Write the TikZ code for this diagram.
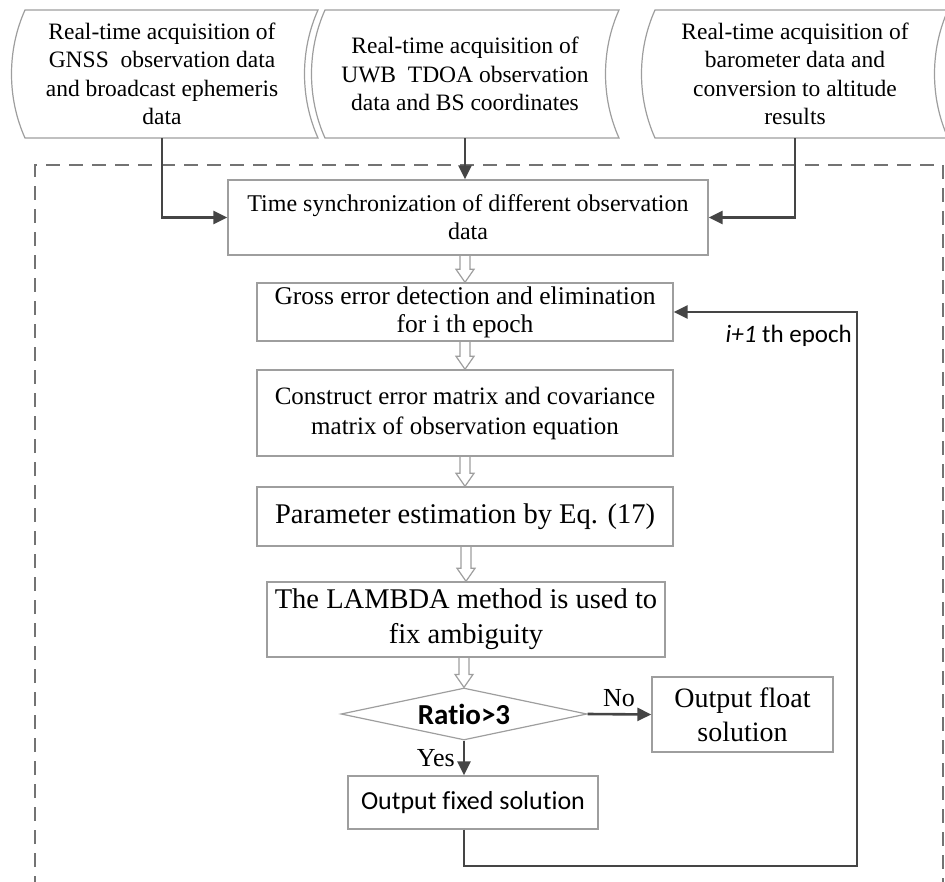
\documentclass[tikz,border=0pt]{standalone}
\usepackage{fontspec}
\setmainfont{Liberation Serif}
\setsansfont{Carlito}[Ligatures=CommonOff]
\usetikzlibrary{arrows.meta,shapes.geometric,calc}

\definecolor{boxgray}{gray}{0.62}
\definecolor{flowgray}{gray}{0.27}
\definecolor{framegray}{gray}{0.45}

% curved input shape between two x positions
\newcommand{\acqshape}[2]{%
  \draw[acq] (#1,10) .. controls +(-18,40) and +(-18,-40) .. (#1,138) -- (#2,138)
    .. controls +(-18,-40) and +(-18,40) .. (#2,10) -- cycle;}
% hollow arrow from one box down to the next
\newcommand{\hollowarrow}[2]{%
  \draw[hollow] ($(#1.south -| #2.north)+(-5,0)$) -- ($(#2.north)+(-5,-13)$)
    -- ($(#2.north)+(-9,-13)$) -- (#2.north) -- ($(#2.north)+(9,-13)$)
    -- ($(#2.north)+(5,-13)$) -- ($(#1.south -| #2.north)+(5,0)$);}

\begin{document}
\begin{tikzpicture}[x=1pt,y=-1pt,
    acq/.style={draw=boxgray,line width=1.2},
    acqtext/.style={align=center,inner sep=0,minimum height=128,font=\fontsize{23.5}{28.5}\selectfont},
    box/.style={draw=boxgray,line width=1.4,align=center,inner sep=0,font=\fontsize{24}{28}\selectfont},
    lbl/.style={inner sep=0,font=\fontsize{26}{30}\selectfont},
    flow/.style={draw=flowgray,line width=2.6,-{Triangle[length=14pt,width=13pt]}},
    hollow/.style={draw=boxgray,line width=1.2},
    frame/.style={draw=framegray,line width=2,dash pattern=on 14pt off 9pt}]
        \useasboundingbox (0,0) rectangle (945,882);
        \clip (0,0) rectangle (945,882);

        \draw[frame] (35,890) |- (943,165) -- (943,890);

        % inputs
        \acqshape{25}{318}
        \acqshape{325}{619}
        \acqshape{655}{948}
        \node[acqtext] (gnss) at (162,74) {Real-time acquisition of\\GNSS~~observation data\\and broadcast ephemeris\\data};
        \node[acqtext] (uwb)  at (465,74) {Real-time acquisition of\\UWB~~TDOA observation\\data and BS coordinates};
        \node[acqtext] (baro) at (795,74) {Real-time acquisition of\\barometer data and\\conversion to altitude\\results};

        % processing chain
        \node[box,minimum width=480,minimum height=75] (sync) at (468,217.5) {Time synchronization of different observation\\data};
        \node[box,minimum width=416,minimum height=58,font=\fontsize{25.5}{28}\selectfont] (gross) at (465,312) {Gross error detection and elimination\\for i th epoch};
        \node[box,minimum width=416,minimum height=86,font=\fontsize{25}{30}\selectfont] (cons) at (465,413) {Construct error matrix and covariance\\matrix of observation equation};
        \node[box,minimum width=416,minimum height=59,font=\fontsize{28.5}{34}\selectfont] (param) at (465,516.5) {Parameter estimation by Eq. (17)};
        \node[box,minimum width=398,minimum height=75,font=\fontsize{28.5}{35}\selectfont] (lambda) at (466,619.5) {The LAMBDA method is used to\\fix ambiguity};
        \node[diamond,draw=boxgray,line width=1.2,aspect=4.7,inner sep=0,minimum width=246,minimum height=52,font=\sffamily\bfseries\fontsize{29}{30}\selectfont] (ratio) at (464,714) {Ratio>3};
        \node[box,minimum width=181,minimum height=75,font=\fontsize{28}{34}\selectfont] (float) at (742.5,714.5) {Output float\\solution};
        \node[box,minimum width=250,minimum height=53,font=\sffamily\fontsize{26}{30}\selectfont] (fixed) at (473,802.5) {Output fixed solution};

        \draw[flow] (gnss.south) |- (sync.west);
        \draw[flow] (uwb.south) -- (uwb.south |- sync.north);
        \draw[flow] (baro.south) |- (sync.east);

        \hollowarrow{sync}{gross}
        \hollowarrow{gross}{cons}
        \hollowarrow{cons}{param}
        \hollowarrow{param}{lambda}
        \hollowarrow{lambda}{ratio}

        \draw[flow] (ratio.east) -- (float.west);
        \draw[flow] (ratio.south) -- (ratio.south |- fixed.north);
        \node[lbl,anchor=base west] (no) at (603,706) {No};
        \node[lbl,anchor=base east] (yes) at (455,766) {Yes};

        % back to the next epoch
        \coordinate (loop) at (857,866);
        \draw[flow] (ratio.south |- fixed.south) |- (loop) |- (gross.east);
        \node[inner sep=0,anchor=base east,font=\sffamily\fontsize{25}{28}\selectfont] (epoch) at (852,343) {\textit{i+1} th epoch};
    \end{tikzpicture}
\end{document}
